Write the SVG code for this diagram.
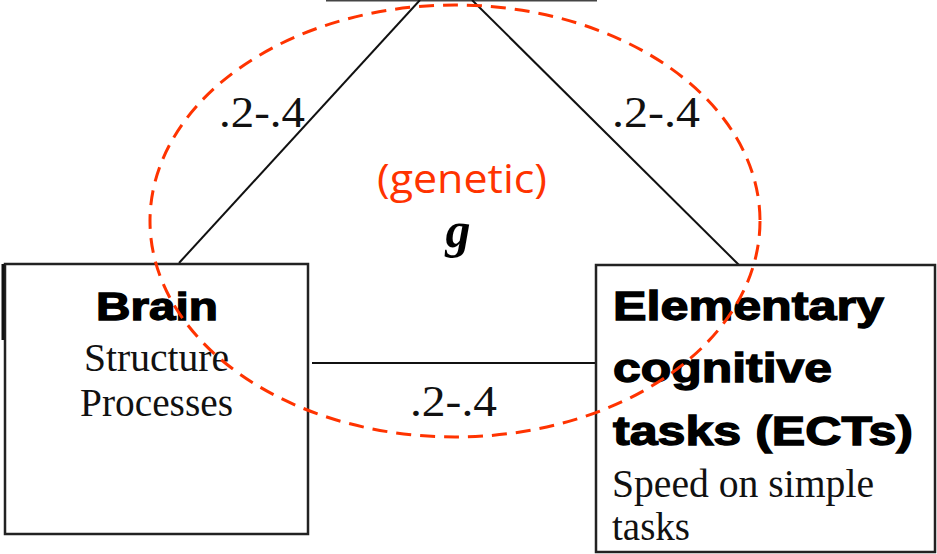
<svg xmlns="http://www.w3.org/2000/svg" width="937" height="554" viewBox="0 0 937 554">
<style>
.box{fill:#fff;stroke:#222;stroke-width:2.5}
.ln{stroke:#111;stroke-width:2;fill:none}
.heavy{stroke:#000;stroke-width:1.3}
</style>
<rect width="937" height="554" fill="#fff"/>
<g id="top-node"><line x1="326" y1="0.5" x2="597" y2="0.5" stroke="#444" stroke-width="2"/></g>
<g id="connectors" font-family="'Liberation Serif', serif" font-size="45" fill="#111">
<line class="ln" x1="179" y1="263" x2="420" y2="0"/>
<line class="ln" x1="472" y1="0" x2="739" y2="265"/>
<line class="ln" x1="312" y1="363" x2="595" y2="363"/>
<text x="219" y="127" textLength="86" lengthAdjust="spacingAndGlyphs">.2-.4</text>
<text x="612" y="127" textLength="88" lengthAdjust="spacingAndGlyphs">.2-.4</text>
<text x="410" y="416" textLength="87" lengthAdjust="spacingAndGlyphs">.2-.4</text>
</g>
<g id="brain">
<rect class="box" x="5" y="264" width="303" height="270"/>
<line x1="3" y1="264" x2="3" y2="340" stroke="#111" stroke-width="3"/>
<text class="heavy" x="96" y="320" font-family="'Liberation Sans', Arial, sans-serif" font-weight="bold" font-size="39" textLength="122" lengthAdjust="spacingAndGlyphs">Brain</text>
<text x="84" y="371" font-family="'Liberation Serif', serif" font-size="40" fill="#111" textLength="145" lengthAdjust="spacingAndGlyphs">Structure</text>
<text x="80" y="416" font-family="'Liberation Serif', serif" font-size="40" fill="#111" textLength="153" lengthAdjust="spacingAndGlyphs">Processes</text>
</g>
<g id="ects" font-family="'Liberation Sans', Arial, sans-serif" font-weight="bold" font-size="40">
<rect class="box" x="596" y="265" width="339" height="287"/>
<text class="heavy" x="613" y="320" textLength="271" lengthAdjust="spacingAndGlyphs">Elementary</text>
<text class="heavy" x="613" y="382" textLength="219" lengthAdjust="spacingAndGlyphs">cognitive</text>
<text class="heavy" x="613" y="445" textLength="300" lengthAdjust="spacingAndGlyphs">tasks (ECTs)</text>
<text x="612" y="497" font-family="'Liberation Serif', serif" font-weight="normal" font-size="40" fill="#111" textLength="262" lengthAdjust="spacingAndGlyphs">Speed on simple</text>
<text x="612" y="540" font-family="'Liberation Serif', serif" font-weight="normal" font-size="40" fill="#111" textLength="78" lengthAdjust="spacingAndGlyphs">tasks</text>
</g>
<g id="g-factor">
<ellipse cx="455" cy="221" rx="305" ry="216" fill="none" stroke="#FF3300" stroke-width="3" stroke-dasharray="15 9"/>
<text x="377" y="193" font-family="'Open Sans', 'Liberation Sans', sans-serif" font-size="40" fill="#FF3300" textLength="170" lengthAdjust="spacingAndGlyphs">(genetic)</text>
<text x="458" y="247" font-family="'Liberation Serif', serif" font-size="50" font-weight="bold" font-style="italic" fill="#000" text-anchor="middle">g</text>
</g>
</svg>
